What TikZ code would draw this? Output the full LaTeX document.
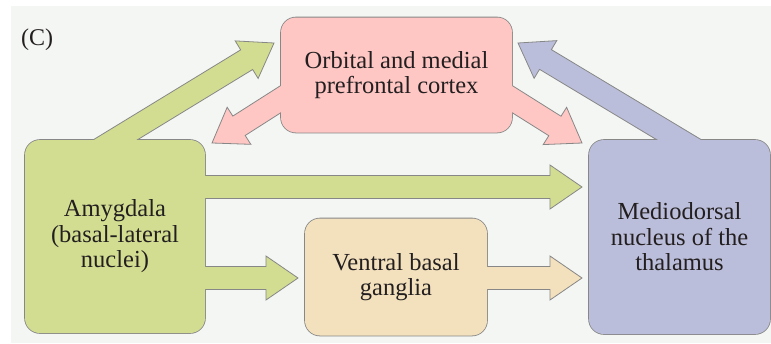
\documentclass[tikz,border=0pt]{standalone}
\usepackage{fontspec}
\setmainfont{Liberation Serif}
\usetikzlibrary{calc,backgrounds}
\definecolor{BackTint}{RGB}{243,246,242}
\definecolor{AmyGreen}{RGB}{211,221,145}
\definecolor{OfcPink}{RGB}{255,199,196}
\definecolor{MdBlue}{RGB}{187,190,218}
\definecolor{VbgTan}{RGB}{243,225,189}
\definecolor{EdgeGray}{RGB}{135,135,135}
\definecolor{InkDark}{RGB}{35,31,32}

% broad arrow from #2 to the tip #3, filled with #1
\newcommand{\blockarrow}[3]{%
  \path[barrow, fill=#1] let \p1=(#2), \p2=(#3),
      \n1={atan2(\y2-\y1,\x2-\x1)}, \n2={veclen(\x2-\x1,\y2-\y1)} in
    {[shift={(\p1)}, rotate=\n1]
    (-30pt,-11.5pt) -- ({(\n2-32)*1pt},-11.5pt) -- ({(\n2-32)*1pt},-22pt)
    -- ({\n2*1pt},0pt) -- ({(\n2-32)*1pt},22pt) -- ({(\n2-32)*1pt},11.5pt)
    -- (-30pt,11.5pt) -- cycle};}

\begin{document}
\begin{tikzpicture}[x=1pt, y=-1pt,
    region/.style={rounded corners=15pt, inner sep=0pt, outer sep=0pt, align=center,
      font=\fontsize{24.5}{25.5}\selectfont, text=InkDark},
    boxedge/.style={draw=EdgeGray, line width=1.6pt, rounded corners=15pt},
    barrow/.style={draw=EdgeGray, line width=0.8pt, line join=miter}
  ]
    \useasboundingbox (0,0) rectangle (771,343);

    \node[region, fill=AmyGreen, minimum width=180pt, minimum height=193pt] (amy) at (115,236.5) {Amygdala\\(basal-lateral\\nuclei)};
    \node[region, fill=OfcPink, minimum width=231pt, minimum height=115pt] (ofc) at (396.5,75) {Orbital and medial\\prefrontal cortex};
    \node[region, fill=VbgTan, minimum width=182pt, minimum height=117pt] (vbg) at (396,277) {Ventral basal\\ganglia};
    \node[region, fill=MdBlue, minimum width=181pt, minimum height=194pt] (md) at (679.5,237) {Mediodorsal\\nucleus of the\\thalamus};
    \node[anchor=base west, inner sep=0pt, font=\fontsize{24}{25}\selectfont, text=InkDark] (panel) at (21,45) {(C)};

    \coordinate (tipA) at (274,43);
    \coordinate (tipL) at (212,143);
    \coordinate (tipR) at (582,143);
    \coordinate (tipB) at (518,43);
    \coordinate (tipH) at (582,187);
    \coordinate (tipV) at (298,278);
    \coordinate (tipT) at (582,278);

    \begin{scope}[on background layer]
      \fill[BackTint] (11,6) rectangle (771,343);
      \foreach \b in {amy,ofc,vbg,md}
        \draw[boxedge] (\b.south west) rectangle (\b.north east);
      \blockarrow{AmyGreen}{amy.north}{tipA}
      \blockarrow{OfcPink}{[yshift=-24pt]ofc.west}{tipL}
      \blockarrow{OfcPink}{[yshift=-24pt]ofc.east}{tipR}
      \blockarrow{MdBlue}{md.north}{tipB}
      \blockarrow{AmyGreen}{amy.east |- tipH}{tipH}
      \blockarrow{AmyGreen}{amy.east |- tipV}{tipV}
      \blockarrow{VbgTan}{vbg.east |- tipT}{tipT}
    \end{scope}
  \end{tikzpicture}
\end{document}
